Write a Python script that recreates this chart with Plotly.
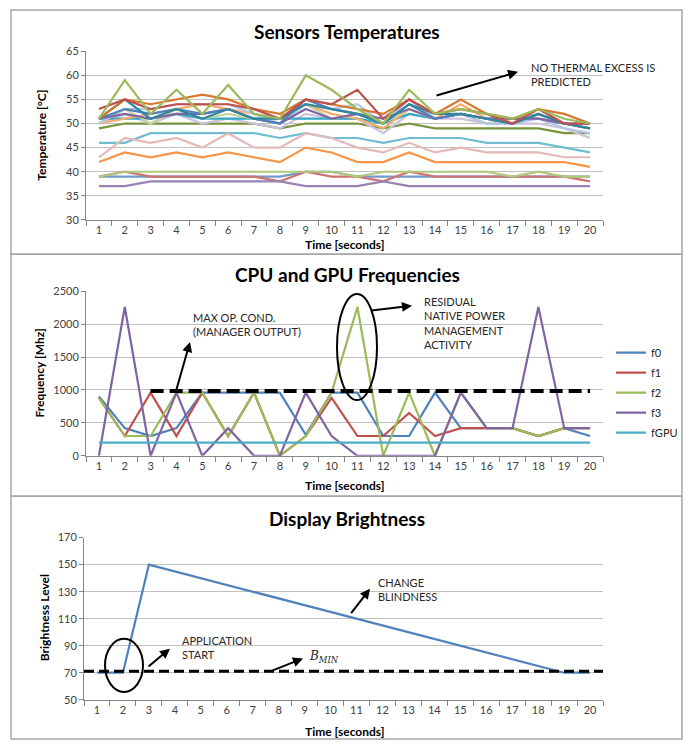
import plotly.graph_objects as go

W, H = 697, 748
FONT = "Lato"

def X(px):
    return px / W

def Y(py):
    return 1 - py / H

# ---------------- data ----------------
time_s = list(range(1, 21))
time_labels = [str(t) for t in time_s]

# Sensors temperatures (°C)
temp_darkgreen = [49, 50, 50, 50, 50, 50, 50, 49, 50, 50, 50, 49, 50, 49, 49, 49, 49, 49, 48, 48]
temp_lavender = [50, 52, 50, 52, 50, 51, 50, 49, 52, 51, 51, 48, 52, 51, 51, 50, 50, 50, 49, 47]
temp_aqua_hi = [51, 51, 51, 52, 51, 51, 51, 51, 51, 51, 51, 50, 52, 51, 52, 51, 51, 51, 50, 49]
temp_peach = [50, 51, 52, 53, 54, 53, 52, 51, 54, 52, 51, 49, 53, 51, 54, 51, 50, 52, 50, 49]
temp_lightgreen_hi = [50, 53, 50, 53, 51, 52, 51, 50, 54, 51, 52, 50, 53, 51, 52, 50, 51, 52, 50, 49]
temp_lightblue = [50, 53, 53, 54, 54, 54, 52, 50, 54, 53, 54, 50, 55, 51, 52, 50, 50, 51, 49, 48]
temp_purple_hi = [51, 52, 51, 52, 52, 53, 51, 50, 53, 51, 52, 51, 53, 51, 52, 51, 51, 51, 50, 50]
temp_blue_hi = [51, 53, 52, 53, 52, 53, 51, 50, 55, 53, 52, 50, 54, 51, 52, 51, 50, 52, 50, 49]
temp_teal = [51, 55, 51, 53, 51, 53, 51, 51, 54, 53, 52, 50, 54, 52, 52, 51, 50, 52, 50, 49]
temp_orange_hi = [51, 55, 54, 55, 56, 55, 53, 52, 55, 54, 53, 52, 55, 52, 55, 52, 51, 53, 52, 50]
temp_red_hi = [53, 55, 53, 54, 54, 54, 53, 51, 55, 54, 57, 51, 55, 52, 53, 52, 50, 53, 50, 50]
temp_green_hi = [51, 59, 52, 57, 52, 58, 52, 51, 60, 57, 53, 50, 57, 52, 53, 52, 51, 53, 51, 50]
temp_aqua = [46, 46, 48, 48, 48, 48, 48, 47, 48, 47, 47, 46, 47, 47, 47, 46, 46, 46, 45, 44]
temp_pink = [43, 47, 46, 47, 45, 48, 45, 45, 48, 47, 45, 44, 46, 44, 45, 44, 44, 44, 43, 43]
temp_orange = [42, 44, 43, 44, 43, 44, 43, 42, 45, 44, 42, 42, 44, 42, 42, 42, 42, 42, 42, 41]
temp_blue_lo = [39, 39, 39, 39, 39, 39, 39, 39, 40, 40, 39, 39, 39, 39, 39, 39, 39, 39, 39, 39]
temp_red_lo = [39, 40, 39, 39, 39, 39, 39, 38, 40, 39, 39, 38, 40, 39, 39, 39, 39, 39, 39, 38]
temp_lightgreen_lo = [39, 40, 40, 40, 40, 40, 40, 40, 40, 40, 39, 40, 40, 40, 40, 40, 39, 40, 39, 39]
temp_purple_lo = [37, 37, 38, 38, 38, 38, 38, 38, 37, 37, 37, 38, 37, 37, 37, 37, 37, 37, 37, 37]

temp_series = [
    (temp_darkgreen, "#77933C"),
    (temp_lavender, "#CCC1DA"),
    (temp_aqua_hi, "#31A8C8"),
    (temp_peach, "#F9AB6B"),
    (temp_lightgreen_hi, "#C3D69B"),
    (temp_lightblue, "#B4C6E7"),
    (temp_purple_hi, "#8064A2"),
    (temp_blue_hi, "#4F81BD"),
    (temp_teal, "#31859C"),
    (temp_orange_hi, "#D8772E"),
    (temp_red_hi, "#C0504D"),
    (temp_green_hi, "#9BBB59"),
    (temp_aqua, "#6FBDD1"),
    (temp_pink, "#E6B9B8"),
    (temp_orange, "#F79646"),
    (temp_blue_lo, "#729ACA"),
    (temp_red_lo, "#CD7371"),
    (temp_lightgreen_lo, "#AFC97A"),
    (temp_purple_lo, "#9983B5"),
]

# CPU / GPU frequencies (MHz)
freq_names = ["f0", "f1", "f2", "f3", "fGPU"]
f0 = [900, 420, 300, 420, 960, 960, 960, 960, 320, 960, 960, 300, 300, 960, 420, 420, 420, 300, 420, 300]
f1 = [880, 300, 960, 300, 960, 300, 960, 0, 300, 880, 300, 300, 650, 300, 420, 420, 420, 300, 420, 420]
f2 = [880, 300, 300, 960, 960, 300, 960, 0, 300, 960, 2260, 0, 960, 0, 960, 420, 420, 300, 420, 420]
f3 = [0, 2260, 0, 960, 0, 420, 0, 0, 960, 300, 0, 0, 0, 0, 960, 420, 420, 2260, 420, 420]
fgpu = [200] * 20
freq_colors = ["#4F81BD", "#C0504D", "#9BBB59", "#8064A2", "#4BACC6"]
max_op_x = [3, 20]
max_op_level = [985, 985]

# Display brightness
brightness = [70, 70, 150, 145, 140, 135, 130, 125, 120, 115, 110, 105, 100, 95, 90, 85, 80, 75, 70, 70]
bmin_x = [0.5, 20.5]
bmin_level = [71, 71]

# ---------------- figure ----------------
fig = go.Figure()

for vals, col in temp_series:
    fig.add_trace(go.Scatter(x=time_s, y=vals, mode="lines", line=dict(color=col, width=2.2),
                             showlegend=False, xaxis="x", yaxis="y"))

for name, vals, col in zip(freq_names, [f0, f1, f2, f3, fgpu], freq_colors):
    fig.add_trace(go.Scatter(x=time_s, y=vals, mode="lines", name=name, legendgroup=name,
                             line=dict(color=col, width=2.2), xaxis="x2", yaxis="y2"))
fig.add_trace(go.Scatter(x=max_op_x, y=max_op_level, mode="lines", showlegend=False,
                         line=dict(color="black", width=4, dash="13px,6px"), xaxis="x2", yaxis="y2"))

fig.add_trace(go.Scatter(x=time_s, y=brightness, mode="lines", showlegend=False,
                         line=dict(color="#4F81BD", width=2.2), xaxis="x3", yaxis="y3"))
fig.add_trace(go.Scatter(x=bmin_x, y=bmin_level, mode="lines", showlegend=False,
                         line=dict(color="black", width=3, dash="10px,5px"), xaxis="x3", yaxis="y3"))

AX_COL = "#868686"
GRID_COL = "#C0C0C0"
TICKFONT = dict(family=FONT, size=11, color="#404040")


def xaxis(domain, anchor):
    return dict(domain=domain, anchor=anchor, range=[0.5, 20.5], tickmode="array",
                tickvals=time_s, ticktext=time_labels, ticks="", showgrid=False,
                showline=True, linecolor=AX_COL, linewidth=1, zeroline=False,
                tickfont=TICKFONT, fixedrange=True,
                minor=dict(tickmode="array", tickvals=[t + 0.5 for t in [0] + time_s],
                           ticks="outside", ticklen=5, tickcolor=AX_COL, showgrid=False))


def yaxis(domain, anchor, rng, dtick):
    return dict(domain=domain, anchor=anchor, range=rng, dtick=dtick, tick0=rng[0],
                showgrid=True, gridcolor=GRID_COL, gridwidth=1, showline=True,
                linecolor=AX_COL, linewidth=1, ticks="outside", ticklen=4, tickcolor=AX_COL,
                zeroline=False, tickfont=TICKFONT, fixedrange=True)


fig.update_layout(
    width=W, height=H, margin=dict(l=0, r=0, t=0, b=0),
    paper_bgcolor="white", plot_bgcolor="white",
    font=dict(family=FONT, color="#262626"),
    xaxis=xaxis([X(86), X(603)], "y"),
    yaxis=yaxis([Y(216.7), Y(45)], "x", [30, 65], 5),
    xaxis2=xaxis([X(86), X(603)], "y2"),
    yaxis2=yaxis([Y(456.7), Y(289.3)], "x2", [0, 2500], 500),
    xaxis3=xaxis([X(84), X(603)], "y3"),
    yaxis3=yaxis([Y(705), Y(540)], "x3", [50, 170], 20),
    legend=dict(x=X(611), y=Y(337), xanchor="left", yanchor="top",
                font=dict(family=FONT, size=11, color="#262626"),
                bgcolor="rgba(0,0,0,0)", tracegroupgap=1, itemwidth=30),
)

shapes = []
# panel borders
for top, bot in [(3, 251.7), (251.7, 498), (498, 745)]:
    shapes.append(dict(type="rect", xref="paper", yref="paper", x0=X(11), x1=X(682),
                       y0=Y(bot), y1=Y(top), line=dict(color="#A6A6A6", width=1.5)))
# ellipses
shapes.append(dict(type="circle", xref="paper", yref="paper", x0=X(337), x1=X(377),
                   y0=Y(400), y1=Y(292), line=dict(color="black", width=2)))
shapes.append(dict(type="circle", xref="paper", yref="paper", x0=X(105), x1=X(143),
                   y0=Y(697), y1=Y(643), line=dict(color="black", width=2)))
fig.update_layout(shapes=shapes)

ann = []
TITLEFONT = dict(family=FONT, size=19, color="black")
for txt, py in [("Sensors Temperatures", 25), ("CPU and GPU Frequencies", 272), ("Display Brightness", 521)]:
    ann.append(dict(text="<b>%s</b>" % txt, x=X(347), y=Y(py), xref="paper", yref="paper",
                    showarrow=False, font=TITLEFONT, xanchor="center", yanchor="middle"))
AXT = dict(family=FONT, size=12, color="black")
for py in [242, 487, 737]:
    ann.append(dict(text="<b>Time [seconds]</b>", x=X(345), y=Y(py), xref="paper", yref="paper",
                    showarrow=False, font=AXT, xanchor="center", yanchor="middle"))
for txt, px, py in [("Temperature [°C]", 42, 131), ("Frequency [Mhz]", 40, 373), ("Brightness Level", 44, 622)]:
    ann.append(dict(text="<b>%s</b>" % txt, x=X(px), y=Y(py), xref="paper", yref="paper",
                    showarrow=False, font=AXT, textangle=-90, xanchor="center", yanchor="middle"))

NOTE = dict(family=FONT, size=11, color="#262626")
for txt, px, py in [
    ("NO THERMAL EXCESS IS<br>PREDICTED", 529, 69),
    ("MAX OP. COND.<br>(MANAGER OUTPUT)", 191, 323),
    ("RESIDUAL<br>NATIVE POWER<br>MANAGEMENT<br>ACTIVITY", 422, 322),
    ("APPLICATION<br>START", 180, 652),
    ("CHANGE<br>BLINDNESS", 376, 593),
]:
    ann.append(dict(text=txt, x=X(px), y=Y(py), xref="paper", yref="paper", showarrow=False,
                    font=NOTE, xanchor="left", yanchor="middle", align="left"))
ann.append(dict(text="<i>B</i><sub><i>MIN</i></sub>", x=X(307), y=Y(662), xref="paper", yref="paper",
                showarrow=False, font=dict(family="DejaVu Serif", size=12, color="#262626"),
                xanchor="left", yanchor="middle"))

# arrows: (tail_x, tail_y, head_x, head_y)
for tx, ty, hx, hy in [(435, 90, 518, 66), (176, 390, 190, 341), (370, 309, 412, 304),
                       (147, 672, 170, 653), (270, 676, 303, 663), (350, 618, 370, 592)]:
    ann.append(dict(text="", x=X(hx), y=Y(hy), xref="paper", yref="paper", showarrow=True,
                    ax=tx - hx, ay=ty - hy, axref="pixel", ayref="pixel",
                    arrowhead=2, arrowsize=1, arrowwidth=2, arrowcolor="black", standoff=0))
fig.update_layout(annotations=ann)

fig.write_html("out.html")
